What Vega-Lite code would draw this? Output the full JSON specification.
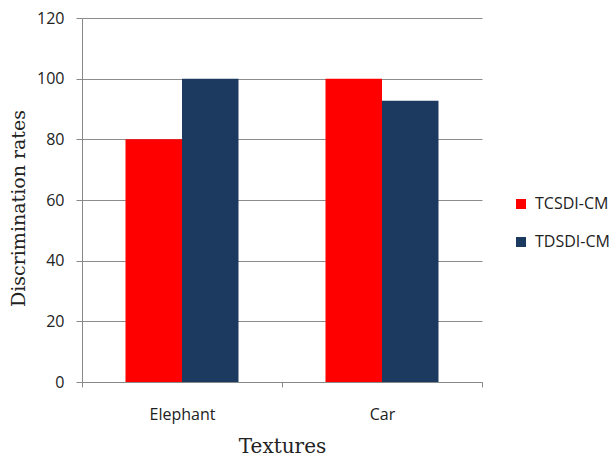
{
  "$schema": "https://vega.github.io/schema/vega-lite/v6.json",
  "autosize": "none",
  "width": 400,
  "height": 364,
  "padding": {"left": 82, "top": 18, "right": 127, "bottom": 75},
  "background": "white",
  "data": {
    "values": [
      {"texture": "Elephant", "method": "TCSDI-CM", "rate": 80},
      {"texture": "Elephant", "method": "TDSDI-CM", "rate": 100},
      {"texture": "Car", "method": "TCSDI-CM", "rate": 100},
      {"texture": "Car", "method": "TDSDI-CM", "rate": 92.7}
    ]
  },
  "mark": {"type": "bar"},
  "encoding": {
    "x": {
      "field": "texture",
      "type": "nominal",
      "sort": ["Elephant", "Car"],
      "scale": {"paddingInner": 0, "paddingOuter": 0},
      "axis": {
        "title": "Textures",
        "titleFont": "DejaVu Serif",
        "titleFontSize": 20,
        "titleFontWeight": "normal",
        "titleColor": "#222",
        "titlePadding": 14,
        "labelFont": "Open Sans",
        "labelFontSize": 16,
        "labelColor": "#222",
        "labelAngle": 0,
        "labelPadding": 19,
        "tickBand": "extent",
        "tickSize": 5,
        "tickColor": "#888",
        "domainColor": "#888",
        "grid": false
      }
    },
    "xOffset": {
      "field": "method",
      "type": "nominal",
      "scale": {"paddingOuter": 0.77, "paddingInner": 0}
    },
    "y": {
      "field": "rate",
      "type": "quantitative",
      "scale": {"domain": [0, 120]},
      "axis": {
        "title": "Discrimination rates",
        "titleFont": "DejaVu Serif",
        "titleFontSize": 19,
        "titleFontWeight": "normal",
        "titleColor": "#222",
        "titleX": -54,
        "titleY": 190,
        "values": [0, 20, 40, 60, 80, 100, 120],
        "labelFont": "Open Sans",
        "labelFontSize": 16,
        "labelColor": "#222",
        "labelPadding": 12,
        "tickSize": 6,
        "tickColor": "#888",
        "domainColor": "#888",
        "grid": true,
        "gridColor": "#8c8c8c"
      }
    },
    "color": {
      "field": "method",
      "type": "nominal",
      "scale": {"domain": ["TCSDI-CM", "TDSDI-CM"], "range": ["#FF0000", "#1C3A60"]},
      "legend": {
        "title": null,
        "orient": "none",
        "legendX": 431,
        "legendY": 178,
        "symbolType": "square",
        "symbolSize": 100,
        "symbolStrokeWidth": 0,
        "labelFont": "Open Sans",
        "labelFontSize": 16,
        "labelColor": "#222",
        "rowPadding": 22,
        "labelOffset": 6,
        "labelLimit": 200
      }
    }
  },
  "config": {"view": {"stroke": null}}
}
